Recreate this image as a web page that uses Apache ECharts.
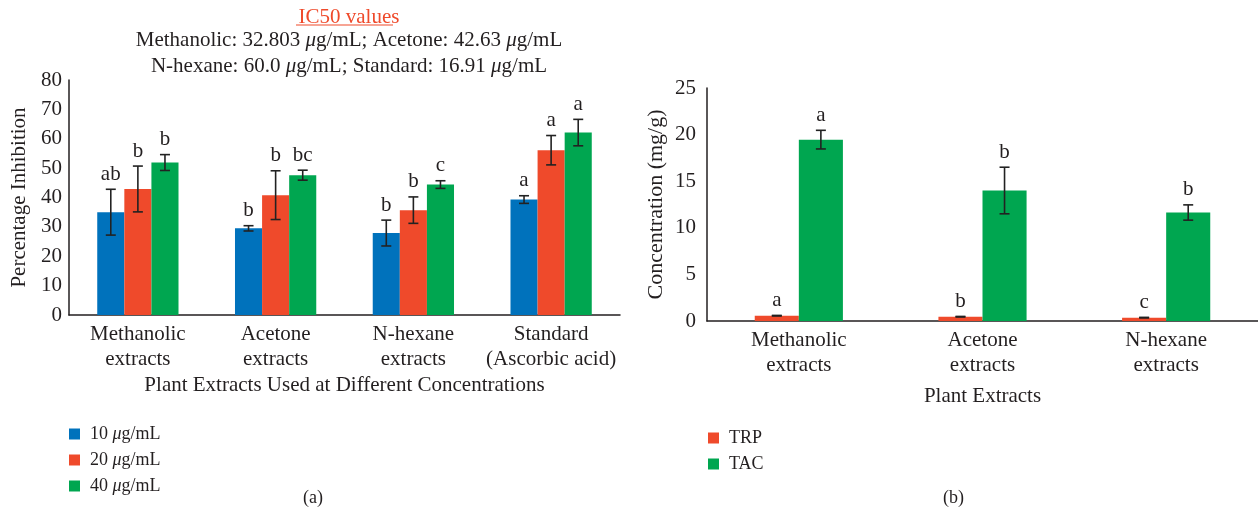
<!DOCTYPE html>
<html>
<head>
<meta charset="utf-8">
<script src="https://cdn.jsdelivr.net/npm/echarts@6/dist/echarts.min.js"></script>
<style>html,body{margin:0;padding:0;background:#fff;}#c{width:1258px;height:517px;}</style>
</head>
<body>
<div id="c"></div>
<script>
// ---- Data: panel (a) ----
const categoriesA = ['Methanolic\nextracts', 'Acetone\nextracts', 'N-hexane\nextracts', 'Standard\n(Ascorbic acid)'];
const namesA = ['10 μg/mL', '20 μg/mL', '40 μg/mL'];
const values10 = [35.0, 29.5, 27.9, 39.3];
const values20 = [42.9, 40.8, 35.7, 56.1];
const values40 = [51.9, 47.6, 44.4, 62.1];
const err10 = [7.8, 0.9, 4.4, 1.3];
const err20 = [7.8, 8.3, 4.5, 5.0];
const err40 = [2.7, 1.7, 1.3, 4.5];
const letters10 = ['ab', 'b', 'b', 'a'];
const letters20 = ['b', 'b', 'b', 'a'];
const letters40 = ['b', 'bc', 'c', 'a'];
const yTicksA = [0, 10, 20, 30, 40, 50, 60, 70, 80];

// ---- Data: panel (b) ----
const categoriesB = ['Methanolic\nextracts', 'Acetone\nextracts', 'N-hexane\nextracts'];
const namesB = ['TRP', 'TAC'];
const valuesTRP = [0.57, 0.46, 0.36];
const valuesTAC = [19.46, 14.0, 11.64];
const errTRP = [0.03, 0.03, 0.03];
const errTAC = [1.0, 2.5, 0.82];
const lettersTRP = ['a', 'b', 'c'];
const lettersTAC = ['a', 'b', 'b'];
const yTicksB = [0, 5, 10, 15, 20, 25];

const ic50Title = 'IC50 values';
const ic50Line1 = 'Methanolic: 32.803 μg/mL; Acetone: 42.63 μg/mL';
const ic50Line2 = 'N-hexane: 60.0 μg/mL; Standard: 16.91 μg/mL';

// ---- Styles ----
const FONT = '"Liberation Serif", "DejaVu Serif", serif';
const TXT = '#231f20';
const BLUE = '#0072bc', RED = '#ef4a2b', GREEN = '#00a650';
const GAP_A = 0.41, GAP_B = 0.52;

function mu(s) { return s.replace(/μ/g, '{i|μ}'); }
const richLegend = { i: { fontStyle: 'italic', fontFamily: FONT, fontSize: 18, color: TXT } };
const richTitle = { i: { fontStyle: 'italic', fontFamily: FONT, fontSize: 21, color: TXT } };

const chart = echarts.init(document.getElementById('c'));

function errSeries(xi, vals, errs, letters, idx, n, gap) {
  return {
    type: 'custom',
    xAxisIndex: xi, yAxisIndex: xi,
    z: 10,
    silent: true,
    data: vals.map((v, i) => [i, v, errs[i]]),
    renderItem: function (params, api) {
      const cat = api.value(0), v = api.value(1), e = api.value(2);
      const catW = api.size([1, 0])[0];
      const bw = catW * (1 - gap) / n;
      const off = (idx - (n - 1) / 2) * bw;
      const hi = api.coord([cat, v + e]);
      const lo = api.coord([cat, v - e]);
      const x = hi[0] + off;
      const cap = 5;
      const st = { stroke: '#222', lineWidth: 1.6 };
      return {
        type: 'group',
        children: [
          { type: 'line', shape: { x1: x, y1: hi[1], x2: x, y2: lo[1] }, style: st },
          { type: 'line', shape: { x1: x - cap, y1: hi[1], x2: x + cap, y2: hi[1] }, style: st },
          { type: 'line', shape: { x1: x - cap, y1: lo[1], x2: x + cap, y2: lo[1] }, style: st },
          { type: 'text', style: { x: x, y: hi[1] - 15, text: letters[params.dataIndex], font: '21px ' + FONT, fill: TXT, textAlign: 'center', textVerticalAlign: 'middle' } }
        ]
      };
    }
  };
}

const axisLine = { show: true, lineStyle: { color: '#231f20', width: 1.5 } };
const catLabel = { color: TXT, fontFamily: FONT, fontSize: 21, lineHeight: 25, margin: 7, interval: 0 };
const valLabel = { color: TXT, fontFamily: FONT, fontSize: 21, margin: 7 };
const nameStyle = { color: TXT, fontFamily: FONT, fontSize: 21 };

const option = {
  animation: false,
  backgroundColor: '#fff',
  title: [
    { text: ic50Title, left: 344, textAlign: 'center', top: 2, textStyle: { color: RED, fontFamily: FONT, fontSize: 21, fontWeight: 'normal' } },
    { text: mu(ic50Line1) + '\n' + mu(ic50Line2), left: 344, textAlign: 'center', top: 22,
      textStyle: { color: TXT, fontFamily: FONT, fontSize: 21, fontWeight: 'normal', lineHeight: 26, rich: richTitle } }
  ],
  graphic: [
    { type: 'line', shape: { x1: 296, y1: 25, x2: 393, y2: 25 }, style: { stroke: RED, lineWidth: 1.2 } },
    { type: 'text', left: 303, top: 489, style: { text: '(a)', font: '18px ' + FONT, fill: TXT } },
    { type: 'text', left: 943, top: 489, style: { text: '(b)', font: '18px ' + FONT, fill: TXT } }
  ],
  legend: [
    { data: namesA, orient: 'vertical', left: 64, top: 420, itemWidth: 11, itemHeight: 11, itemGap: 8, icon: 'rect',
      formatter: n => mu(n), textStyle: { color: TXT, fontFamily: FONT, fontSize: 18, padding: [0, 0, 0, 5], rich: richLegend } },
    { data: namesB, orient: 'vertical', left: 703, top: 424, itemWidth: 11, itemHeight: 11, itemGap: 8, icon: 'rect',
      textStyle: { color: TXT, fontFamily: FONT, fontSize: 18, padding: [0, 0, 0, 5] } }
  ],
  grid: [
    { left: 69, right: 638, top: 80, bottom: 202 },
    { left: 707, right: 0, top: 88, bottom: 196 }
  ],
  xAxis: [
    { type: 'category', gridIndex: 0, data: categoriesA, axisLine: axisLine, axisTick: { show: false }, axisLabel: catLabel,
      name: 'Plant Extracts Used at Different Concentrations', nameLocation: 'middle', nameGap: 60, nameTextStyle: nameStyle },
    { type: 'category', gridIndex: 1, data: categoriesB, axisLine: axisLine, axisTick: { show: false }, axisLabel: catLabel,
      name: 'Plant Extracts', nameLocation: 'middle', nameGap: 65, nameTextStyle: nameStyle }
  ],
  yAxis: [
    { type: 'value', gridIndex: 0, min: yTicksA[0], max: yTicksA[yTicksA.length - 1], interval: 10,
      axisLine: axisLine, axisTick: { show: false }, splitLine: { show: false }, axisLabel: valLabel,
      name: 'Percentage Inhibition', nameLocation: 'middle', nameGap: 39, nameTextStyle: nameStyle },
    { type: 'value', gridIndex: 1, min: yTicksB[0], max: yTicksB[yTicksB.length - 1], interval: 5,
      axisLine: axisLine, axisTick: { show: false }, splitLine: { show: false }, axisLabel: Object.assign({}, valLabel, { margin: 11 }),
      name: 'Concentration (mg/g)', nameLocation: 'middle', nameGap: 40, nameTextStyle: { color: TXT, fontFamily: FONT, fontSize: 22 } }
  ],
  series: [
    { name: namesA[0], type: 'bar', xAxisIndex: 0, yAxisIndex: 0, data: values10, itemStyle: { color: BLUE }, barGap: '0%', barCategoryGap: (GAP_A * 100) + '%' },
    { name: namesA[1], type: 'bar', xAxisIndex: 0, yAxisIndex: 0, data: values20, itemStyle: { color: RED } },
    { name: namesA[2], type: 'bar', xAxisIndex: 0, yAxisIndex: 0, data: values40, itemStyle: { color: GREEN } },
    errSeries(0, values10, err10, letters10, 0, 3, GAP_A),
    errSeries(0, values20, err20, letters20, 1, 3, GAP_A),
    errSeries(0, values40, err40, letters40, 2, 3, GAP_A),
    { name: namesB[0], type: 'bar', xAxisIndex: 1, yAxisIndex: 1, data: valuesTRP, itemStyle: { color: RED }, barGap: '0%', barCategoryGap: (GAP_B * 100) + '%' },
    { name: namesB[1], type: 'bar', xAxisIndex: 1, yAxisIndex: 1, data: valuesTAC, itemStyle: { color: GREEN } },
    errSeries(1, valuesTRP, errTRP, lettersTRP, 0, 2, GAP_B),
    errSeries(1, valuesTAC, errTAC, lettersTAC, 1, 2, GAP_B)
  ]
};
chart.setOption(option);
</script>
</body>
</html>
